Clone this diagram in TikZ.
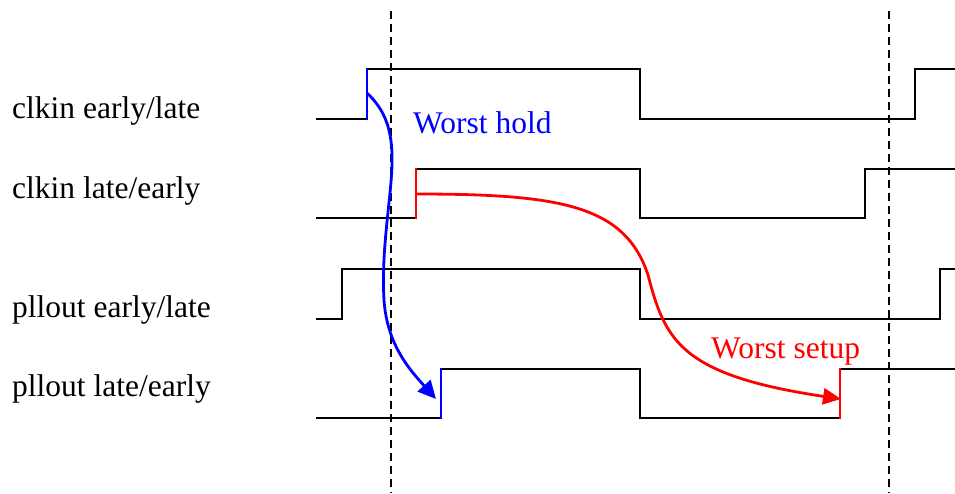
\documentclass[tikz,border=0pt]{standalone}
\usepackage{fontspec}
\setmainfont{Liberation Serif}
\usetikzlibrary{arrows.meta}
\begin{document}
\begin{tikzpicture}[x=1pt,y=-1pt,
  wave/.style={line width=2.2pt,line join=miter,black},
  guide/.style={line width=2.2pt,dash pattern=on 7.5pt off 5.5pt},
  hold/.style={line width=2.8pt,blue},
  setup/.style={line width=2.8pt,red},
  holdarrow/.style={hold,-{Triangle[length=18pt,width=17pt]}},
  setuparrow/.style={setup,-{Triangle[length=18pt,width=16pt]}},
  lbl/.style={anchor=base west,inner sep=0pt,font=\fontsize{31.5}{36}\selectfont},
]
\useasboundingbox (0,0) rectangle (955,493);
% labels
\node[lbl] (l1) at (12,118) {clkin early/late};
\node[lbl] (l2) at (12,198) {clkin late/early};
\node[lbl] (l3) at (12,317) {pllout early/late};
\node[lbl] (l4) at (12,396) {pllout late/early};
% dashed guides
\draw[guide] (391,11) -- (391,493);
\draw[guide] (889,11) -- (889,493);
% waveforms
\draw[wave] (316,119) -- (367,119);
\draw[wave] (367,69) -- (640,69) -- (640,119) -- (915,119) -- (915,69) -- (955,69);
\draw[hold,line cap=rect] (367,119) -- (367,69);

\draw[wave] (316,218) -- (416,218);
\draw[wave] (416,169) -- (640,169) -- (640,218) -- (865,218) -- (865,169) -- (955,169);
\draw[setup,line cap=rect] (416,218) -- (416,169);

\draw[wave] (316,319) -- (342,319) -- (342,269) -- (640,269) -- (640,319) -- (940,319) -- (940,269) -- (955,269);

\draw[wave] (316,418) -- (441,418);
\draw[wave] (441,369) -- (640,369) -- (640,418) -- (840,418);
\draw[wave] (840,369) -- (955,369);
\draw[hold,line cap=rect] (441,418) -- (441,369);
\draw[setup,line cap=rect] (840,418) -- (840,369);
% arrows
\coordinate (hs) at (367,93);
\coordinate (he) at (436,399);
\coordinate (ss) at (416,194);
\coordinate (se) at (841,399);
\draw[holdarrow] (hs) .. controls (385,110) and (393,130) .. (392,165)
  .. controls (391,200) and (381,250) .. (384,300)
  .. controls (387,345) and (410,370) .. (he);
\draw[setuparrow] (ss) .. controls (560,194) and (625,205) .. (648,275)
  .. controls (665,340) and (680,375) .. (se);
% annotations
\node[lbl,text=blue] (wh) at (413,133) {Worst hold};
\node[lbl,text=red] (ws) at (711,358) {Worst setup};
\end{tikzpicture}
\end{document}
